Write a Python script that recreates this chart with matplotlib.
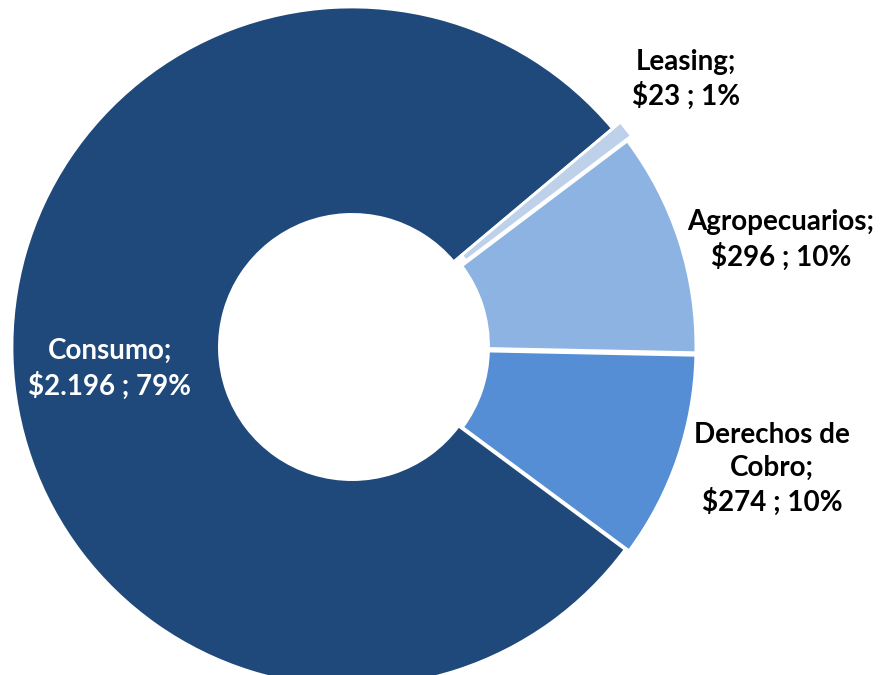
import matplotlib
matplotlib.use('Agg')
import matplotlib.pyplot as plt

plt.rcParams['font.family'] = ['Lato', 'DejaVu Sans']

# data
categories = ['Consumo', 'Derechos de\nCobro', 'Agropecuarios', 'Leasing']
values = [2196, 274, 296, 23]
value_labels = ['$2.196', '$274', '$296', '$23']
pct_labels = ['79%', '10%', '10%', '1%']
colors = ['#1F497A', '#558ED5', '#8DB3E2', '#BDD1EA']
explode = [0, 0.012, 0.012, 0.03]

fig = plt.figure(figsize=(8.8, 6.75), dpi=100)
ax = fig.add_axes([0, 0, 1, 1])

# donut
wedges, _ = ax.pie(values, colors=colors, startangle=40, counterclock=True,
                   explode=explode, radius=1.0,
                   wedgeprops=dict(width=0.61, edgecolor='white', linewidth=2))

# labels (text positions in data units, pie radius = 1)
label_xy = [(-0.712, -0.065), (1.235, -0.359), (1.262, 0.315), (0.982, 0.787)]
label_color = ['white', 'black', 'black', 'black']
for cat, vl, p, (x, y), c in zip(categories, value_labels, pct_labels, label_xy, label_color):
    ax.text(x, y, '{};\n{} ; {}'.format(cat, vl, p), ha='center', va='center',
            fontsize=20, fontweight='bold', color=c, linespacing=1.32)

# pie centre at pixel (352, 347), 340 px per unit
ax.set_xlim(-352 / 340, (880 - 352) / 340)
ax.set_ylim(-(675 - 347) / 340, 347 / 340)
ax.set_aspect('auto')
ax.axis('off')

fig.savefig('out.png', dpi=100)
